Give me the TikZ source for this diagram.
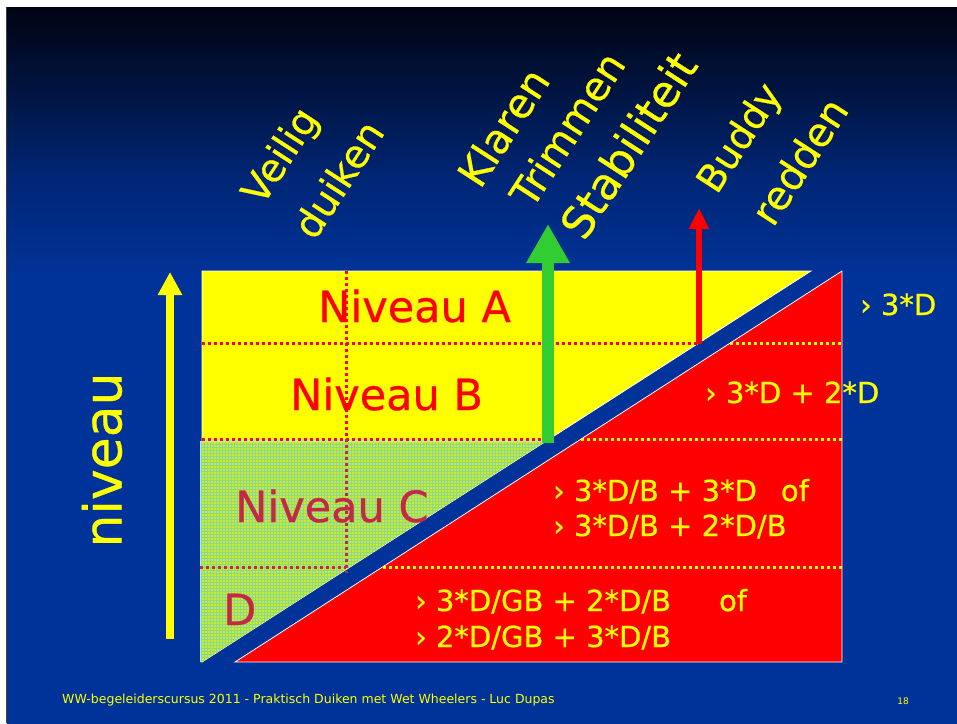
\documentclass[tikz,border=0pt]{standalone}
\usepackage{fontspec}
\setmainfont{DejaVu Sans}
\newfontfamily\heavyish[FakeBold=0.6]{DejaVu Sans}
\usetikzlibrary{arrows.meta,patterns}
\definecolor{slideblue}{RGB}{0,51,153}
\definecolor{bgmidA}{RGB}{0,38,118}
\definecolor{bgmidB}{RGB}{0,18,58}
\definecolor{bgtop}{RGB}{0,3,18}
\definecolor{lvlyellow}{RGB}{255,255,0}
\definecolor{lvlred}{RGB}{255,0,0}
\definecolor{lvlgreen}{RGB}{50,205,50}
\definecolor{texgreen}{RGB}{205,238,30}
\definecolor{gridteal}{RGB}{140,215,150}
\definecolor{crimson}{RGB}{195,40,70}
\pgfdeclareverticalshading{slidebg}{100bp}{color(0bp)=(slideblue); color(56bp)=(slideblue); color(63bp)=(bgmidA); color(70bp)=(bgmidB); color(75bp)=(bgtop); color(100bp)=(bgtop)}
\tikzset{
  reddots/.style={draw=lvlred, line width=3pt, dash pattern=on 3pt off 3pt},
  yeldots/.style={draw=lvlyellow, line width=3pt, dash pattern=on 3pt off 3pt},
  lvltext/.style={text=lvlred, inner sep=0pt, anchor=base west, font=\heavyish\fontsize{43}{48}\selectfont},
  cnttext/.style={text=lvlyellow, inner sep=0pt, anchor=base west, font=\heavyish\fontsize{29}{32}\selectfont},
  toplabel/.style={text=lvlyellow, inner sep=0pt, rotate=57, font=\heavyish\fontsize{#1}{#1}\selectfont},
  uparrow/.style={line width=#1}
}
\begin{document}
\begin{tikzpicture}[x=1pt,y=-1pt]
\useasboundingbox (0,0) rectangle (957,723);
\fill[white] (0,0) rectangle (957,723);
\shade[shading=slidebg] (7,7) rectangle (957,723);
\draw[black!75, line width=1.2pt] (6.6,7) -- (6.6,723);

% yellow zone
\fill[lvlyellow, draw=white, line width=0.8pt] (202,271) -- (811,271) -- (202,662) -- cycle;
% textured zone (Niveau C and D)
\fill[texgreen] (200,441) -- (546,441) -- (202,662) -- (200,662) -- cycle;
\fill[pattern=grid, pattern color=gridteal] (200,441) -- (546,441) -- (202,662) -- (200,662) -- cycle;
\draw[white!70!cyan, line width=0.8pt] (200,662) -- (200,441) -- (546,441);
% red zone
\fill[lvlred, draw=white, line width=0.8pt] (842,271) -- (842,662) -- (235,662) -- cycle;

% dotted grid lines
\draw[reddots] (202,343) -- (699,343);
\draw[reddots] (202,439) -- (549,439);
\draw[reddots, draw=crimson] (200,567) -- (346,567);
\draw[reddots] (346,271) -- (346,439);
\draw[reddots, draw=crimson] (346,439) -- (346,573);
\draw[yeldots] (730,343) -- (842,343);
\draw[yeldots] (581,439) -- (842,439);
\draw[yeldots] (383,567) -- (842,567);

% arrows
\coordinate (ya0) at (170,639); \coordinate (ya1) at (170,272);
\coordinate (ga0) at (548,443); \coordinate (ga1) at (548,224);
\coordinate (ra0) at (699,344); \coordinate (ra1) at (699,208);
\draw[uparrow=8pt, draw=lvlyellow, -{Triangle[width=23pt,length=23pt]}] (ya0) -- (ya1);
\draw[uparrow=12pt, draw=lvlgreen, -{Triangle[width=41pt,length=39pt]}] (ga0) -- (ga1);
\draw[uparrow=6pt, draw=lvlred, -{Triangle[width=19pt,length=21pt]}] (ra0) -- (ra1);

% level labels
\node[lvltext] (na) at (318,322) {Niveau A};
\node[lvltext] (nb) at (290,410) {Niveau B};
\node[lvltext, text=crimson] (nc) at (235,522) {Niveau C};
\node[lvltext, text=crimson] (nd) at (223,625) {D};

% requirement labels
\node[cnttext] (r1) at (860,315) {› 3*D};
\node[cnttext] (r2) at (705,403) {› 3*D + 2*D};
\node[cnttext] (r3) at (553,501) {› 3*D/B + 3*D\hspace{24pt}of};
\node[cnttext] (r4) at (553,536) {› 3*D/B + 2*D/B};
\node[cnttext] (r5) at (415,611) {› 3*D/GB + 2*D/B\hspace{48pt}of};
\node[cnttext] (r6) at (415,647) {› 2*D/GB + 3*D/B};

% axis label
\node[text=lvlyellow, inner sep=0pt, rotate=90, font=\heavyish\fontsize{52}{56}\selectfont] (niv) at (102,460) {niveau};

% top labels
\node[toplabel=39] (t1) at (282,157) {Veilig};
\node[toplabel=39] (t2) at (338,179) {duiken};
\node[toplabel=41] (t3) at (503,127) {Klaren};
\node[toplabel=40] (t4) at (567,129) {Trimmen};
\node[toplabel=44] (t5) at (628,145) {Stabiliteit};
\node[toplabel=38] (t6) at (741,139) {Buddy};
\node[toplabel=40] (t7) at (799,161) {redden};

% footer
\node[text=lvlyellow, inner sep=0pt, anchor=west, font=\fontsize{12.5}{14}\selectfont] (foot) at (62,700) {WW-begeleiderscursus 2011 - Praktisch Duiken met Wet Wheelers - Luc Dupas};
\node[text=lvlyellow, inner sep=0pt, font=\fontsize{9}{11}\selectfont] (pg) at (903,701) {18};
\end{tikzpicture}
\end{document}
